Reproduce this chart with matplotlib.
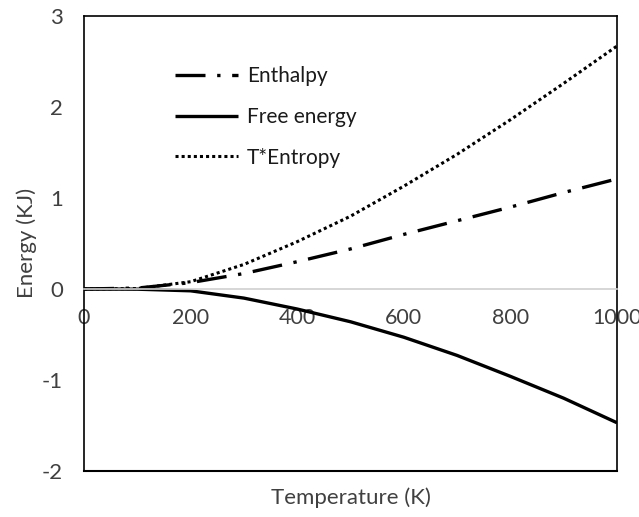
import matplotlib
matplotlib.use("Agg")
import matplotlib.pyplot as plt

# valeurs
temperature = [0, 100, 200, 300, 400, 500, 600, 700, 800, 900, 1000]
enthalpie = [0, 0.01, 0.07, 0.17, 0.30, 0.44, 0.60, 0.75, 0.90, 1.06, 1.21]
energie_libre = [0, -0.002, -0.02, -0.10, -0.22, -0.36, -0.53, -0.73, -0.96, -1.20, -1.47]
t_entropie = [0, 0.005, 0.08, 0.27, 0.52, 0.80, 1.13, 1.48, 1.86, 2.26, 2.67]

x_ticks = [0, 200, 400, 600, 800, 1000]
y_ticks = [-2, -1, 0, 1, 2, 3]

gris = "#404040"
plt.rcParams["font.family"] = ["Lato", "DejaVu Sans"]
plt.rcParams["font.size"] = 15
plt.rcParams["axes.unicode_minus"] = False

fig = plt.figure(figsize=(6.39, 5.17), dpi=100)
ax = fig.add_axes([84 / 639, 1 - 471 / 517, 533 / 639, 455 / 517])

ax.plot(temperature, enthalpie, color="black", lw=2.4,
        linestyle=(0, (9, 3.5, 1, 3.5)), label="Enthalpy")
ax.plot(temperature, energie_libre, color="black", lw=2.4,
        solid_capstyle="butt", label="Free energy")
ax.plot(temperature, t_entropie, color="black", lw=2.2,
        linestyle=(0, (1, 1)), label="T*Entropy")

ax.set_xlim(0, 1000)
ax.set_ylim(-2, 3)
ax.set_xticks(x_ticks)
ax.set_yticks(y_ticks)

# axe horizontal gris qui passe par zéro, cadre noir autour
ax.spines["bottom"].set_position(("data", 0))
ax.spines["bottom"].set_color("#d0d0d0")
ax.spines["bottom"].set_linewidth(1.2)
for cote in ["left", "right", "top"]:
    ax.spines[cote].set_color("black")
    ax.spines[cote].set_linewidth(1.2)
ax.plot([0, 1], [0, 0], transform=ax.transAxes, color="black", lw=1.5, clip_on=False)

ax.tick_params(axis="x", length=0, pad=14, labelsize=15.5, labelcolor=gris)
ax.tick_params(axis="y", length=0, pad=15, labelsize=16, labelcolor=gris)

fig.text(350.5 / 639, 1 - 498 / 517, "Temperature (K)", ha="center", va="center",
         fontsize=16, color=gris)
fig.text(27 / 639, 1 - 243 / 517, "Energy (KJ)", ha="center", va="center",
         rotation=90, fontsize=16, color=gris)

leg = ax.legend(loc="upper left", bbox_to_anchor=(0.171, 0.89), frameon=False,
                handlelength=3.0, handletextpad=0.45, labelspacing=1.0,
                borderaxespad=0, borderpad=0, fontsize=15)
for t in leg.get_texts():
    t.set_color("#1a1a1a")

fig.savefig("out.png", dpi=100)
